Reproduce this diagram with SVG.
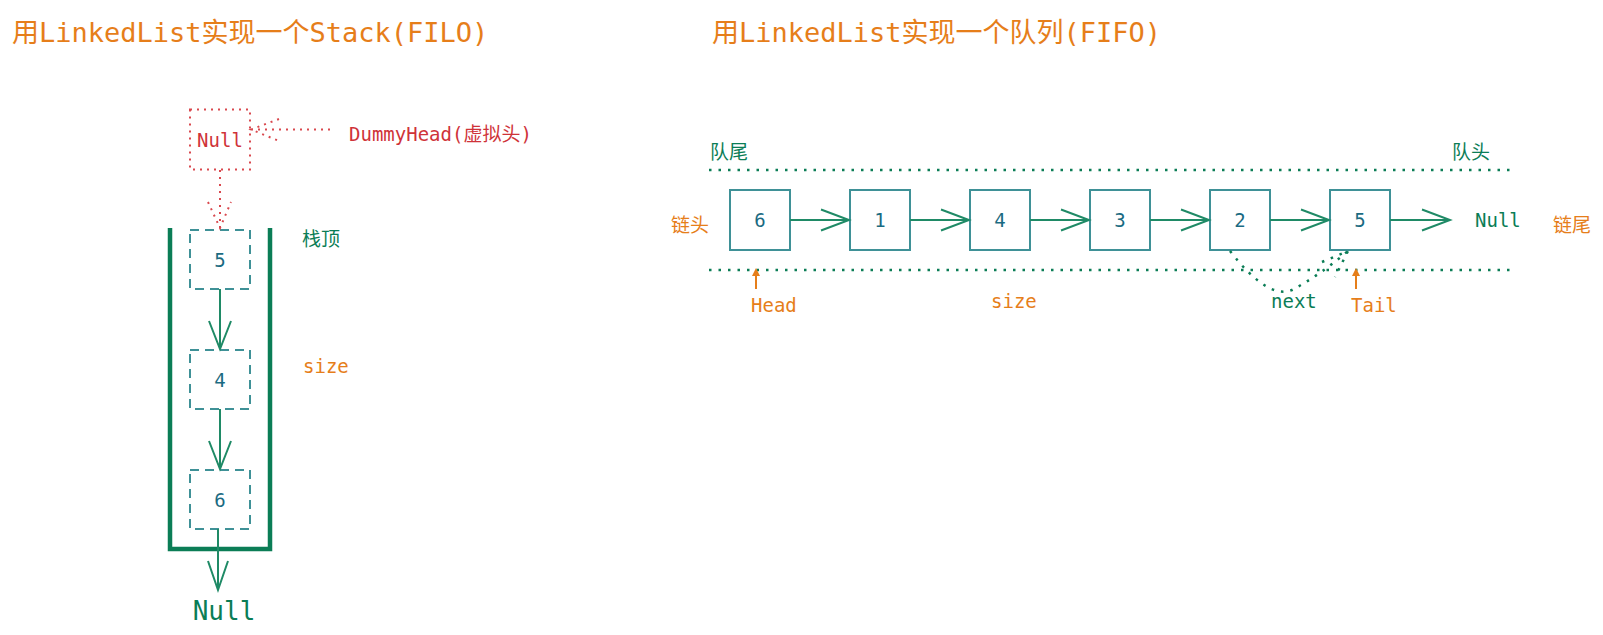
<svg xmlns="http://www.w3.org/2000/svg" width="1603" height="635" viewBox="0 0 1603 635">
<defs>
<style>
text{font-family:"DejaVu Sans Mono","Noto Sans CJK SC",monospace;}
.title{font-size:27px;fill:#e67e1a;}
.lbl{font-size:19px;}
.or{fill:#e67e1a;}
.gr{fill:#0b7d56;}
.rd{fill:#cf3339;}
.num{font-size:19px;fill:#1b6b82;text-anchor:middle;}
.box{fill:none;stroke:#3f9197;stroke-width:2;}
.dbox{fill:none;stroke:#3f9197;stroke-width:2;stroke-dasharray:9 6;}
.rbox{fill:none;stroke:#d9484e;stroke-width:2;stroke-dasharray:2 5;}
.ln{fill:none;stroke:#1f8a66;stroke-width:2;}
.rln{fill:none;stroke:#d9484e;stroke-width:2;stroke-dasharray:2 5;}
.dot{fill:none;stroke:#0b7d56;stroke-width:2.5;stroke-dasharray:2.5 7;}
.cont{fill:none;stroke:#0b7d56;stroke-width:4.5;}
.up{stroke:#e67e1a;stroke-width:2;fill:none;}
</style>
</defs>
<text class="title" x="12" y="42">用LinkedList实现一个Stack(FILO)</text>
<text class="title" x="712" y="42">用LinkedList实现一个队列(FIFO)</text>

<g id="stack-container"><path class="cont" d="M170,228 V549 H270 V228"/></g>
<g id="dummy-null"><rect class="rbox" x="190" y="109.5" width="60" height="60"/><text class="lbl rd" x="220" y="147" text-anchor="middle">Null</text></g>
<g id="dummy-label"><text class="lbl rd" x="349" y="141">DummyHead(虚拟头)</text></g>
<g id="s5"><rect class="dbox" x="190" y="230" width="60" height="59"/><text class="num" x="220" y="266.5">5</text></g>
<g id="s4"><rect class="dbox" x="190" y="350" width="60" height="59"/><text class="num" x="220" y="386.5">4</text></g>
<g id="s6"><rect class="dbox" x="190" y="470" width="60" height="59"/><text class="num" x="220" y="506.5">6</text></g>
<g id="s-null"><text x="224" y="620" font-size="26" class="gr" text-anchor="middle">Null</text></g>
<g id="s-labels"><text class="lbl gr" x="302" y="245.5">栈顶</text><text class="lbl or" x="303" y="372.5">size</text></g>

<g id="q-labels">
<text class="lbl gr" x="710" y="159">队尾</text>
<text class="lbl gr" x="1452" y="159">队头</text>
<text class="lbl or" x="671" y="231.5">链头</text>
<text class="lbl or" x="1553" y="231.5">链尾</text>
<text class="lbl gr" x="1475" y="227">Null</text>
<text class="lbl or" x="751" y="311.5">Head</text>
<text class="lbl or" x="991" y="308">size</text>
<text class="lbl gr" x="1271" y="308">next</text>
<text class="lbl or" x="1351" y="311.5">Tail</text>
</g>
<g id="q6"><rect class="box" x="730" y="190" width="60" height="60"/><text class="num" x="760" y="226.5">6</text></g>
<g id="q1"><rect class="box" x="850" y="190" width="60" height="60"/><text class="num" x="880" y="226.5">1</text></g>
<g id="q4"><rect class="box" x="970" y="190" width="60" height="60"/><text class="num" x="1000" y="226.5">4</text></g>
<g id="q3"><rect class="box" x="1090" y="190" width="60" height="60"/><text class="num" x="1120" y="226.5">3</text></g>
<g id="q2"><rect class="box" x="1210" y="190" width="60" height="60"/><text class="num" x="1240" y="226.5">2</text></g>
<g id="q5"><rect class="box" x="1330" y="190" width="60" height="60"/><text class="num" x="1360" y="226.5">5</text></g>

<g id="connectors">
<path class="rln" d="M330,129.5 H251 M279,119 L251,129.5 L279,141"/>
<path class="rln" d="M220,170 V228 M208,202 L220,228 L231,202"/>
<path class="ln" d="M220,289 V349 M209,321 L220,349 L231,321"/>
<path class="ln" d="M220,409 V469 M209,441 L220,469 L231,441"/>
<path class="ln" d="M218,529 V590 M208,561 L218,590 L228,561"/>
<path class="ln" d="M790,220 H849 M821,209.5 L849,220 L821,230.5"/>
<path class="ln" d="M910,220 H969 M941,209.5 L969,220 L941,230.5"/>
<path class="ln" d="M1030,220 H1089 M1061,209.5 L1089,220 L1061,230.5"/>
<path class="ln" d="M1150,220 H1209 M1181,209.5 L1209,220 L1181,230.5"/>
<path class="ln" d="M1270,220 H1329 M1301,209.5 L1329,220 L1301,230.5"/>
<path class="ln" d="M1390,220 H1450 M1422,209.5 L1450,220 L1422,230.5"/>
<path class="dot" d="M709,170 H1511"/>
<path class="dot" d="M709,270 H1511"/>
<path class="dot" d="M1230,251 Q1268,300 1292,290 Q1320,275 1348,251"/>
<path class="dot" d="M1322,262 L1348,251 L1335,277"/>
<path class="up" d="M756,289 V271"/><path d="M752,276 L756,268 L760,276 Z" fill="#e67e1a"/>
<path class="up" d="M1356,289 V271"/><path d="M1352,276 L1356,268 L1360,276 Z" fill="#e67e1a"/>
</g>
</svg>
